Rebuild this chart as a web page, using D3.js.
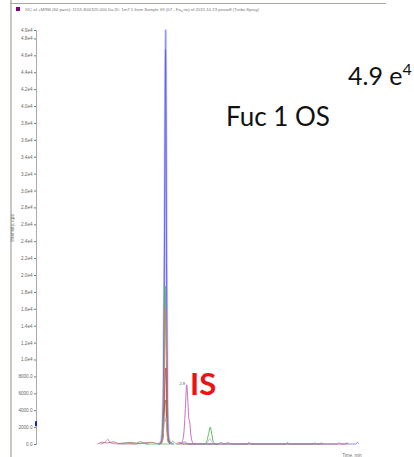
<!DOCTYPE html>
<html>
<head>
<meta charset="utf-8">
<script src="https://cdn.jsdelivr.net/npm/d3@7"></script>
<style>
  html, body { margin: 0; padding: 0; background: #fff; }
  svg { display: block; }
</style>
</head>
<body>
<svg id="chart" width="414" height="457"></svg>
<script>
// XIC of +MRM, 1153.3/325.0 — retention time (min) vs intensity (cps)
const titleText = "XIC of +MRM (60 pairs): 1153.300/325.000 Da ID: 1m7 1 from Sample 69 (07 - Fa\u00bfno) of 2015 10 23 poswiff (Turbo Spray)";

const yTicks = [0, 2000, 4000, 6000, 8000, 10000, 12000, 14000, 16000, 18000, 20000,
  22000, 24000, 26000, 28000, 30000, 32000, 34000, 36000, 38000, 40000, 42000,
  44000, 46000, 48000, 49000];
const xTicks = [0, 0.5, 1, 1.5, 2, 2.5, 3, 3.5, 4, 4.5, 5, 5.5, 6, 6.5];

// Trace points: [time, intensity]
const blueOuter = [[2.28,0],[2.33,200],[2.36,2000],[2.385,10000],[2.405,30000],[2.417,46000],[2.421,49000],[2.427,44000],[2.44,22000],[2.455,6000],[2.475,900],[2.52,100],[2.58,0]];
const blueInner = [[2.30,0],[2.35,400],[2.375,4000],[2.395,18000],[2.41,36000],[2.419,46700],[2.428,38000],[2.44,18000],[2.455,5000],[2.47,700],[2.52,0]];
const greenMain = [[2.30,0],[2.35,300],[2.375,2500],[2.395,10000],[2.412,18700],[2.425,14000],[2.44,6000],[2.46,1200],[2.49,200],[2.55,0]];
const orangeMain = [[2.32,0],[2.36,500],[2.385,4000],[2.405,12000],[2.42,16000],[2.435,11000],[2.45,3500],[2.47,500],[2.52,0]];
const redMain = [[2.32,0],[2.37,600],[2.39,3000],[2.41,7500],[2.425,9000],[2.44,4500],[2.46,900],[2.50,0]];
const brownMain = [[2.33,0],[2.37,800],[2.40,4500],[2.42,5200],[2.44,2500],[2.46,400],[2.50,0]];
const grayMain = [[2.32,0],[2.36,300],[2.385,1800],[2.40,3400],[2.415,2600],[2.43,3100],[2.45,1200],[2.47,200],[2.52,0]];
const magentaIS = [[2.66,0],[2.72,150],[2.76,1200],[2.79,4200],[2.815,7000],[2.835,5200],[2.855,3000],[2.87,2600],[2.89,1200],[2.92,250],[2.96,0]];
const greenLate = [[3.12,0],[3.18,150],[3.22,1100],[3.255,2000],[3.28,1300],[3.31,300],[3.36,0]];
const grayLate = [[3.15,0],[3.21,250],[3.245,650],[3.28,250],[3.33,0]];

// Low-level baseline noise
const magentaNoise = [[1.20,0],[1.28,150],[1.34,550],[1.40,100],[1.55,0],[1.90,0],[2.0,120],[2.1,0]];
const brownNoise = [[1.15,0],[1.25,220],[1.32,120],[1.45,250],[1.55,60],[1.75,180],[1.95,80],[2.15,200],[2.28,0]];
const greenNoise = [[1.6,0],[1.7,120],[1.85,0],[1.95,300],[2.05,0],[2.50,0],[2.55,350],[2.62,0],[3.40,0],[3.45,200],[3.52,0],[3.58,180],[3.65,0],[5.18,0],[5.2,150],[5.24,0],[5.30,0],[5.33,140],[5.36,0]];
const redNoise = [[2.62,0],[2.68,200],[2.75,0],[3.95,0],[3.98,200],[4.02,0],[4.68,0],[4.70,180],[4.73,0],[5.78,0],[5.80,150],[5.83,0]];
const blueNoise = [[2.70,0],[2.78,250],[2.85,0],[5.63,0],[5.66,160],[5.69,0],[5.98,0],[6.0,200],[6.03,0]];

const svg = d3.select("#chart");

const x = d3.scaleLinear().domain([0, 6.5]).range([36, 384]);
const y = d3.scaleLinear().domain([0, 49000]).range([444, 30]);

// Frame lines of the viewer window
svg.append("line").attr("x1", 11).attr("x2", 11).attr("y1", 0).attr("y2", 457)
  .attr("stroke", "#c8c8c0").attr("stroke-width", 2);
svg.append("line").attr("x1", 10).attr("x2", 386).attr("y1", 3.5).attr("y2", 3.5)
  .attr("stroke", "#a8a8a0").attr("stroke-width", 1.2);

// Title
svg.append("rect").attr("x", 16).attr("y", 7).attr("width", 4).attr("height", 4).attr("fill", "#800080");
svg.append("text").attr("x", 25).attr("y", 11).attr("font-family", "Liberation Sans, Arial, sans-serif")
  .attr("font-size", 3.8).attr("fill", "#777").attr("textLength", 234).attr("lengthAdjust", "spacingAndGlyphs")
  .text(titleText);

const fmtY = v => v >= 10000 ? (v / 10000).toFixed(1) + "e4" : v.toFixed(1);

// Axes
const yAxis = d3.axisLeft(y).tickValues(yTicks).tickFormat(fmtY).tickSize(2).tickPadding(1.5);
const gy = svg.append("g").attr("transform", "translate(36,0)").call(yAxis);
gy.select(".domain").attr("stroke", "#aaa");
gy.selectAll(".tick line").attr("stroke", "#777");
gy.selectAll("text").attr("font-family", "Liberation Sans, Arial, sans-serif")
  .attr("font-size", 4.6).attr("fill", "#666");

svg.append("clipPath").attr("id", "xclip").append("rect").attr("x", 0).attr("y", 440).attr("width", 386).attr("height", 17);
const xAxis = d3.axisBottom(x).tickValues(xTicks).tickFormat(d3.format(".1f")).tickSize(2).tickPadding(1.2);
const gx = svg.append("g").attr("transform", "translate(0,444)").attr("clip-path", "url(#xclip)").call(xAxis);
gx.select(".domain").attr("stroke", "#555");
gx.selectAll(".tick line").attr("stroke", "#555");
gx.selectAll("text").attr("font-family", "Liberation Sans, Arial, sans-serif")
  .attr("font-size", 4.6).attr("fill", "#666");

// Axis titles
svg.append("text").attr("transform", "translate(14,228) rotate(-90)").attr("text-anchor", "middle")
  .attr("font-family", "Liberation Sans, Arial, sans-serif").attr("font-size", 4.8).attr("fill", "#707070")
  .text("Intensity, cps");
svg.append("text").attr("x", 352).attr("y", 456.5).attr("text-anchor", "middle")
  .attr("font-family", "Liberation Sans, Arial, sans-serif").attr("font-size", 4.5).attr("fill", "#707070")
  .text("Time, min");

// Traces
const line = d3.line().x(d => x(d[0])).y(d => y(d[1])).curve(d3.curveMonotoneX);
const traces = [
  { data: blueOuter, color: "#d0d0ff", width: 2.4 },
  { data: blueOuter, color: "#8c8cff", width: 0.8 },
  { data: magentaNoise, color: "#c060c0", width: 0.7 },
  { data: brownNoise, color: "#a05050", width: 0.7 },
  { data: greenNoise, color: "#50b050", width: 0.7 },
  { data: redNoise, color: "#e04040", width: 0.7 },
  { data: blueNoise, color: "#6060e0", width: 0.7 },
  { data: blueInner, color: "#5a5ae6", width: 0.8 },
  { data: greenMain, color: "#50b050", width: 0.8 },
  { data: orangeMain, color: "#e08050", width: 0.9 },
  { data: redMain, color: "#c84030", width: 0.8 },
  { data: brownMain, color: "#8a5a3a", width: 0.8 },
  { data: grayMain, color: "#b0b0b0", width: 0.8 },
  { data: magentaIS, color: "#c060c0", width: 0.9 },
  { data: greenLate, color: "#50b050", width: 0.9 },
  { data: grayLate, color: "#b8b8b8", width: 0.7 }
];
svg.append("g").selectAll("path").data(traces).join("path")
  .attr("d", d => line(d.data)).attr("fill", "none")
  .attr("stroke", d => d.color).attr("stroke-width", d => d.width)
  .attr("stroke-linejoin", "round");

// Small marker on the intensity axis
svg.append("rect").attr("x", 35).attr("y", y(2700)).attr("width", 2).attr("height", 5).attr("fill", "#2020c0");

// Peak apex label for the internal standard
svg.append("text").attr("x", x(2.815) - 1.5).attr("y", y(7000) + 0.5).attr("text-anchor", "end")
  .attr("font-family", "Liberation Sans, Arial, sans-serif").attr("font-size", 4.2).attr("fill", "#666")
  .text("2.8");

// Annotations
svg.append("text").attr("x", 190).attr("y", 395)
  .attr("font-family", "Lato, Open Sans, sans-serif").attr("font-weight", "bold")
  .attr("font-size", 31).attr("fill", "#ee1111").text("IS");
svg.append("text").attr("x", 226).attr("y", 126)
  .attr("font-family", "Lato, Open Sans, sans-serif").attr("font-size", 26).attr("fill", "#111")
  .text("Fuc 1 OS");
const mag = svg.append("text").attr("x", 348).attr("y", 85)
  .attr("font-family", "Lato, Open Sans, sans-serif").attr("font-size", 25).attr("fill", "#111");
mag.append("tspan").text("4.9 e");
mag.append("tspan").attr("font-size", 16).attr("dy", -10).text("4");
</script>
</body>
</html>
